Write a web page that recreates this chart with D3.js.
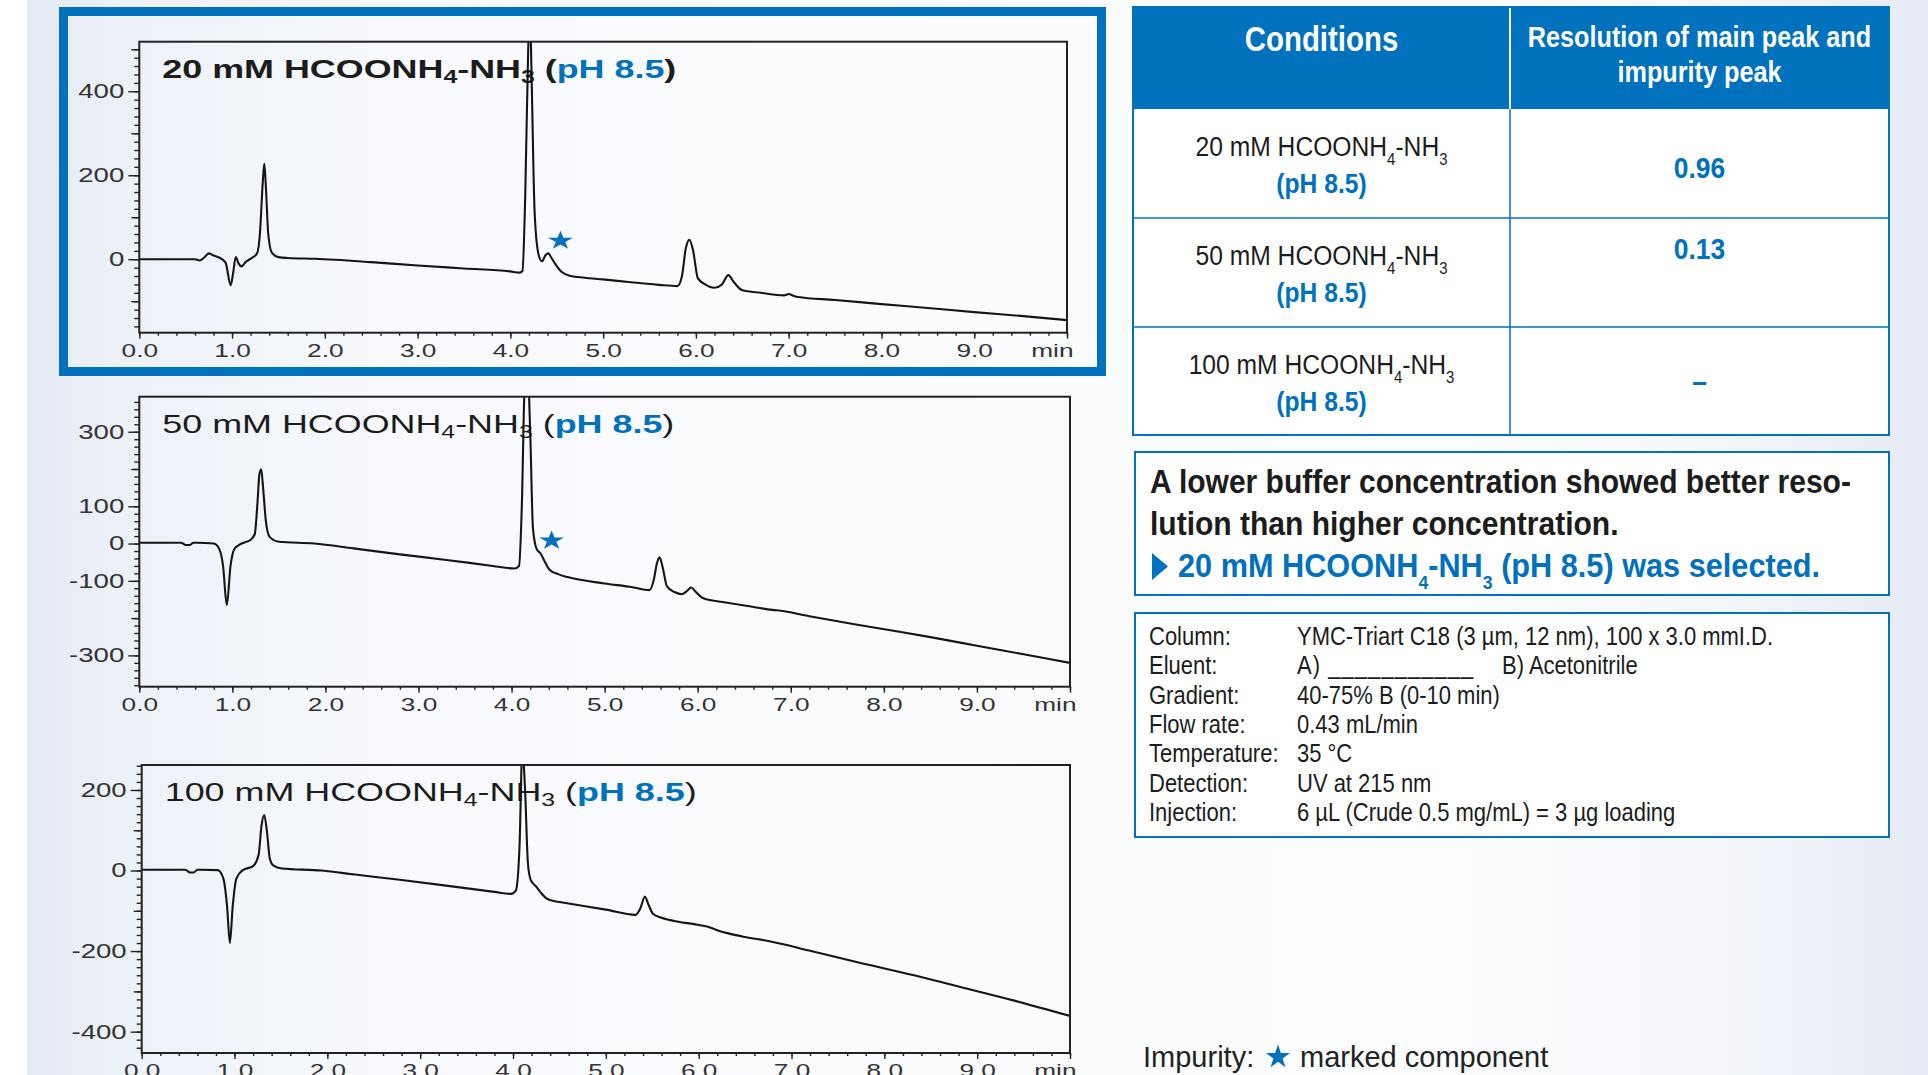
<!DOCTYPE html>
<html>
<head>
<meta charset="utf-8">
<script src="https://cdn.jsdelivr.net/npm/d3@7"></script>
<style>
  body { margin: 0; background: #fff; }
  svg { display: block; }
</style>
</head>
<body>
<div id="chart"></div>
<script>
// ---- chromatogram traces (retention time in min, signal in mAU) ----
const time20 = [0, 0.6, 0.65, 0.7, 0.75, 0.8, 0.86, 0.93, 0.985, 1.01, 1.04, 1.07, 1.1, 1.15, 1.22, 1.27, 1.3, 1.33, 1.347, 1.365, 1.39, 1.43, 1.5, 1.6, 1.9, 2.5, 3.0, 3.5, 4.0, 4.1, 4.13, 4.16, 4.19, 4.21, 4.23, 4.26, 4.3, 4.34, 4.38, 4.41, 4.44, 4.48, 4.55, 4.65, 4.8, 5.0, 5.3, 5.6, 5.8, 5.85, 5.89, 5.93, 5.97, 6.02, 6.1, 6.2, 6.28, 6.35, 6.41, 6.5, 6.7, 6.95, 7.0, 7.05, 7.1, 7.5, 8.0, 8.5, 9.0, 9.5, 10.0];
const signal20 = [0, 0, -3, 4, 14, 9, 4, -8, -62, -35, 5, -10, -17, -6, 4, 14, 60, 180, 228, 170, 60, 15, 5, 3, 1, -7, -15, -22, -29, -32, -28, 150, 480, 600, 420, 120, 15, -5, 10, 14, 4, -10, -30, -40, -44, -48, -55, -61, -64, -40, 25, 46, 20, -45, -60, -68, -60, -38, -55, -74, -80, -86, -83, -87, -90, -97, -107, -116, -126, -135, -145];

const time50 = [0, 0.45, 0.5, 0.54, 0.58, 0.62, 0.8, 0.86, 0.9, 0.94, 0.98, 1.02, 1.07, 1.13, 1.19, 1.24, 1.27, 1.29, 1.31, 1.33, 1.36, 1.4, 1.5, 1.88, 2.3, 2.8, 3.3, 3.8, 4.03, 4.08, 4.11, 4.14, 4.17, 4.2, 4.23, 4.27, 4.31, 4.36, 4.41, 4.5, 4.6, 5.0, 5.3, 5.48, 5.53, 5.56, 5.59, 5.62, 5.67, 5.75, 5.83, 5.88, 5.93, 5.98, 6.06, 6.3, 6.6, 6.8, 6.85, 7.2, 7.7, 8.2, 8.5, 9.0, 9.5, 10.0];
const signal50 = [2, 2, -4, -4, 2, 2, 0, -15, -60, -165, -60, -15, -4, 3, 9, 25, 110, 185, 199, 150, 60, 18, 5, 0, -13, -29, -44, -60, -67, -60, 100, 420, 480, 300, 40, -15, -26, -50, -71, -82, -90, -107, -117, -125, -95, -55, -37, -60, -115, -130, -136, -128, -118, -130, -147, -158, -170, -178, -179, -195, -217, -238, -251, -274, -297, -320];

const time100 = [0, 0.47, 0.52, 0.56, 0.6, 0.64, 0.82, 0.88, 0.92, 0.95, 0.98, 1.02, 1.09, 1.2, 1.26, 1.29, 1.32, 1.35, 1.38, 1.42, 1.51, 1.94, 2.3, 2.78, 3.3, 3.8, 3.98, 4.03, 4.07, 4.1, 4.13, 4.16, 4.19, 4.25, 4.3, 4.36, 4.45, 4.55, 5.0, 5.32, 5.37, 5.42, 5.46, 5.51, 5.6, 5.78, 5.95, 6.09, 6.2, 6.32, 6.5, 6.75, 7.2, 7.7, 8.32, 8.8, 9.4, 10.0];
const signal100 = [2, 2, -5, -5, 2, 2, 1, -20, -90, -180, -90, -20, 1, 11, 40, 110, 138, 95, 30, 12, 5, 0, -10, -23, -38, -53, -58, -50, 60, 300, 200, 20, -23, -40, -55, -69, -76, -80, -97, -110, -95, -65, -85, -108, -117, -127, -133, -139, -148, -156, -165, -175, -199, -227, -260, -288, -323, -361];

// impurity star marks [time, signal]
const impurity20 = [4.54, 44];
const impurity50 = [4.43, 8];

// axes
const xDomain = [0, 10];
const xLabels = [0, 1, 2, 3, 4, 5, 6, 7, 8, 9, 10];
const yDomain20 = [-175, 518];
const yDomain50 = [-384, 394];
const yDomain100 = [-453, 262];
const yLabels20 = [400, 200, 0];
const yLabels50 = [300, 100, 0, -100, -300];
const yLabels100 = [200, 0, -200, -400];

// table / notes
const buffers = ['20', '50', '100'];
const bufferPH = '(pH 8.5)';
const resolution = ['0.96', '0.13', '–'];
const headers = ['Conditions', 'Resolution of main peak and', 'impurity peak'];
const summary = ['A lower buffer concentration showed better reso-', 'lution than higher concentration.'];
const condLabels = ['Column:', 'Eluent:', 'Gradient:', 'Flow rate:', 'Temperature:', 'Detection:', 'Injection:'];
const condValues = ['YMC-Triart C18 (3 µm, 12 nm), 100 x 3.0 mmI.D.', 'A) ___________', '40-75% B (0-10 min)', '0.43 mL/min', '35 °C', 'UV at 215 nm', '6 µL (Crude 0.5 mg/mL) = 3 µg loading'];
const eluentB = 'B) Acetonitrile';

const BLUE = '#0071bc';
const INK = '#1c1c1c';
const SANS = "'Liberation Sans', Arial, Helvetica, sans-serif";
const CHART_SX = 1.38;   // chart lettering is stretched wide
const COND_SX = 0.88;    // condensed lettering on the right

const svg = d3.select('#chart').append('svg')
  .attr('width', 1928)
  .attr('height', 1075);

const defs = svg.append('defs');
const bg = defs.append('linearGradient').attr('id', 'bg')
  .attr('x1', 0).attr('x2', 1).attr('y1', 0).attr('y2', 0);
[[0, '#e4eaf5'], [0.05, '#edf1f8'], [0.2, '#f8fafd'], [0.75, '#fcfdfe'], [0.88, '#f5f7fb'], [1, '#e5eaf4']]
  .forEach(s => bg.append('stop').attr('offset', s[0]).attr('stop-color', s[1]));

svg.append('rect').attr('width', 1928).attr('height', 1075).attr('fill', '#fff');
svg.append('rect').attr('x', 27).attr('width', 1901).attr('height', 1075).attr('fill', 'url(#bg)');

function formula(conc) {
  return [{ t: conc + ' mM HCOONH' }, { t: '4', sub: true }, { t: '-NH' }, { t: '3', sub: true }];
}

// text made of tspans, with subscripts
function rich(parent, x, y, parts, o) {
  const text = parent.append('text')
    .attr('transform', `translate(${x},${y}) scale(${o.sx || 1},1)`)
    .attr('font-family', SANS)
    .attr('font-size', o.size)
    .attr('font-weight', o.bold ? 700 : 400)
    .attr('fill', o.color || INK)
    .attr('text-anchor', o.anchor || 'start');
  if (o.spacing) text.attr('letter-spacing', o.spacing);
  let down = false;
  parts.forEach(p => {
    const ts = text.append('tspan').text(p.t);
    if (p.bold !== undefined) ts.attr('font-weight', p.bold ? 700 : 400);
    if (p.color) ts.attr('fill', p.color);
    if (p.sub) {
      ts.attr('font-size', o.subSize);
      if (!down) ts.attr('dy', o.subDy);
      down = true;
    } else if (down) {
      ts.attr('dy', -o.subDy);
      down = false;
    }
  });
  return text;
}

// ---- chromatogram panels ----
const panels = [
  { id: 'p20', time: time20, signal: signal20, yDomain: yDomain20, yLabels: yLabels20, star: impurity20, conc: buffers[0], bold: true,
    left: 139.3, right: 1067, top: 41.7, bottom: 332.7 },
  { id: 'p50', time: time50, signal: signal50, yDomain: yDomain50, yLabels: yLabels50, star: impurity50, conc: buffers[1], bold: false,
    left: 139.3, right: 1070, top: 396.7, bottom: 686.7 },
  { id: 'p100', time: time100, signal: signal100, yDomain: yDomain100, yLabels: yLabels100, star: null, conc: buffers[2], bold: false,
    left: 141.7, right: 1070, top: 765, bottom: 1053 }
];

panels.forEach(p => {
  const x = d3.scaleLinear().domain(xDomain).range([p.left, p.right]);
  const y = d3.scaleLinear().domain(p.yDomain).range([p.bottom, p.top]);
  const g = svg.append('g');

  defs.append('clipPath').attr('id', 'clip-' + p.id)
    .append('rect')
    .attr('x', p.left).attr('y', p.top)
    .attr('width', p.right - p.left).attr('height', p.bottom - p.top);

  // x ticks: minor every 0.2 min, labelled every minute
  const xMinor = d3.range(0, 51).map(i => i / 5);
  const xMin = g.append('g').attr('transform', `translate(0,${p.bottom})`)
    .call(d3.axisBottom(x).tickValues(xMinor).tickSize(3).tickFormat(''));
  const xMaj = g.append('g').attr('transform', `translate(0,${p.bottom})`)
    .call(d3.axisBottom(x).tickValues(xLabels).tickSize(6).tickPadding(4.5)
      .tickFormat(d => d === 10 ? 'min' : d.toFixed(1)));

  // y ticks: minor every 20, medium every 100, labelled ones longest
  const lo = p.yDomain[0], hi = p.yDomain[1];
  const yMinor = d3.range(Math.ceil(lo / 20), Math.floor(hi / 20) + 1).map(i => i * 20);
  const yMed = yMinor.filter(v => v % 100 === 0 && !p.yLabels.includes(v));
  const yMin = g.append('g').attr('transform', `translate(${p.left},0)`)
    .call(d3.axisLeft(y).tickValues(yMinor).tickSize(5).tickFormat(''));
  const yMd = g.append('g').attr('transform', `translate(${p.left},0)`)
    .call(d3.axisLeft(y).tickValues(yMed).tickSize(8).tickFormat(''));
  const yMaj = g.append('g').attr('transform', `translate(${p.left},0)`)
    .call(d3.axisLeft(y).tickValues(p.yLabels).tickSize(11).tickPadding(4).tickFormat(d => String(d)));

  [xMin, xMaj, yMin, yMd, yMaj].forEach(a => {
    a.select('.domain').remove();
    a.selectAll('line').attr('stroke', '#222').attr('stroke-width', 1.4);
    a.selectAll('text')
      .attr('font-family', SANS)
      .attr('font-size', 19)
      .attr('fill', '#333');
  });
  xMaj.selectAll('text').attr('transform', `scale(${CHART_SX},1)`);
  xMaj.selectAll('text').filter(d => d === 10)
    .attr('text-anchor', 'end').attr('x', 6 / CHART_SX);
  yMaj.selectAll('text')
    .attr('font-size', 20)
    .attr('transform', `scale(${CHART_SX},1)`)
    .attr('x', -15 / CHART_SX);

  // title
  const titleParts = formula(p.conc).concat([{ t: ' (' }, { t: 'pH 8.5', bold: true, color: BLUE }, { t: ')' }]);
  rich(g, p.left + 23, p.top + 36, titleParts,
    { size: 26, bold: p.bold, sx: CHART_SX, subSize: 18, subDy: 5, color: INK });

  // trace
  const line = d3.line()
    .x((d, i) => x(p.time[i]))
    .y(d => y(d))
    .curve(d3.curveMonotoneX);
  g.append('path')
    .datum(p.signal)
    .attr('clip-path', `url(#clip-${p.id})`)
    .attr('d', line)
    .attr('fill', 'none')
    .attr('stroke', '#151515')
    .attr('stroke-width', 2.1)
    .attr('stroke-linejoin', 'round');

  // frame
  g.append('rect')
    .attr('x', p.left).attr('y', p.top)
    .attr('width', p.right - p.left).attr('height', p.bottom - p.top)
    .attr('fill', 'none')
    .attr('stroke', '#222')
    .attr('stroke-width', 2);

  if (p.star) {
    g.append('path')
      .attr('d', d3.symbol(d3.symbolStar, 112)())
      .attr('transform', `translate(${x(p.star[0])},${y(p.star[1])}) scale(1.3,1)`)
      .attr('fill', BLUE);
  }
});

// highlight frame around the selected condition
svg.append('rect')
  .attr('x', 63.5).attr('y', 11.5)
  .attr('width', 1038).attr('height', 360)
  .attr('fill', 'none')
  .attr('stroke', BLUE)
  .attr('stroke-width', 9);

// ---- resolution table ----
const tab = svg.append('g');
const tL = 1133, tM = 1510, tR = 1889, tT = 7, tH = 109;
const rowEdges = [109, 218, 327, 435];

tab.append('rect').attr('x', tL).attr('y', tH).attr('width', tR - tL).attr('height', rowEdges[3] - tH).attr('fill', '#fff');
tab.append('rect').attr('x', tL).attr('y', tT).attr('width', tR - tL).attr('height', tH - tT).attr('fill', BLUE);
tab.append('line').attr('x1', tM).attr('x2', tM).attr('y1', tT).attr('y2', tH).attr('stroke', '#fff').attr('stroke-width', 2);
tab.append('line').attr('x1', tM).attr('x2', tM).attr('y1', tH).attr('y2', rowEdges[3]).attr('stroke', BLUE).attr('stroke-width', 1.5);
rowEdges.slice(1, 3).forEach(yy => {
  tab.append('line').attr('x1', tL).attr('x2', tR).attr('y1', yy).attr('y2', yy).attr('stroke', BLUE).attr('stroke-width', 1.5);
});
tab.append('rect').attr('x', tL).attr('y', tT).attr('width', tR - tL).attr('height', rowEdges[3] - tT)
  .attr('fill', 'none').attr('stroke', BLUE).attr('stroke-width', 2);

const c1 = (tL + tM) / 2, c2 = (tM + tR) / 2;
rich(tab, c1, 51, [{ t: headers[0] }], { size: 35, bold: true, color: '#fff', anchor: 'middle', sx: 0.84 });
rich(tab, c2, 47, [{ t: headers[1] }], { size: 29, bold: true, color: '#fff', anchor: 'middle', sx: 0.87 });
rich(tab, c2, 82, [{ t: headers[2] }], { size: 29, bold: true, color: '#fff', anchor: 'middle', sx: 0.87 });

const resBaseline = [178, 259, 392];
buffers.forEach((b, i) => {
  const top = rowEdges[i];
  rich(tab, c1, top + 47, formula(b), { size: 28, sx: COND_SX, subSize: 17, subDy: 9, anchor: 'middle' });
  rich(tab, c1, top + 84, [{ t: bufferPH }], { size: 28, bold: true, color: BLUE, sx: COND_SX, anchor: 'middle' });
  rich(tab, c2, resBaseline[i], [{ t: resolution[i] }], { size: 30, bold: true, color: BLUE, sx: COND_SX, anchor: 'middle' });
});

// ---- summary box ----
const sum = svg.append('g');
sum.append('rect').attr('x', 1135).attr('y', 452).attr('width', tR - 1135).attr('height', 143)
  .attr('fill', '#fff').attr('stroke', BLUE).attr('stroke-width', 2);
rich(sum, 1150, 493, [{ t: summary[0] }], { size: 33, bold: true, sx: 0.91 });
rich(sum, 1150, 535, [{ t: summary[1] }], { size: 33, bold: true, sx: 0.91 });
sum.append('path').attr('d', 'M1152,553 L1168,566.5 L1152,580 Z').attr('fill', BLUE);
rich(sum, 1178, 577, formula(buffers[0]).concat([{ t: ' ' + bufferPH + ' was selected.' }]),
  { size: 33, bold: true, color: BLUE, sx: 0.93, subSize: 19, subDy: 12 });

// ---- conditions box ----
const cond = svg.append('g');
cond.append('rect').attr('x', 1135).attr('y', 613).attr('width', tR - 1135).attr('height', 224)
  .attr('fill', '#fff').attr('stroke', BLUE).attr('stroke-width', 2);
condLabels.forEach((lab, i) => {
  const yy = 645 + i * 29.3;
  rich(cond, 1149, yy, [{ t: lab }], { size: 25, sx: COND_SX });
  rich(cond, 1297, yy, [{ t: condValues[i] }], { size: 25, sx: COND_SX, spacing: i === 1 ? 1.2 : null });
});
rich(cond, 1502, 645 + 29.3, [{ t: eluentB }], { size: 25, sx: COND_SX });

// ---- footnote ----
const foot = svg.append('g');
rich(foot, 1143, 1067, [{ t: 'Impurity:' }], { size: 29, color: '#222' });
foot.append('path')
  .attr('d', d3.symbol(d3.symbolStar, 180)())
  .attr('transform', 'translate(1278,1057)')
  .attr('fill', BLUE);
rich(foot, 1300, 1067, [{ t: 'marked component' }], { size: 29, color: '#222' });
</script>
</body>
</html>
